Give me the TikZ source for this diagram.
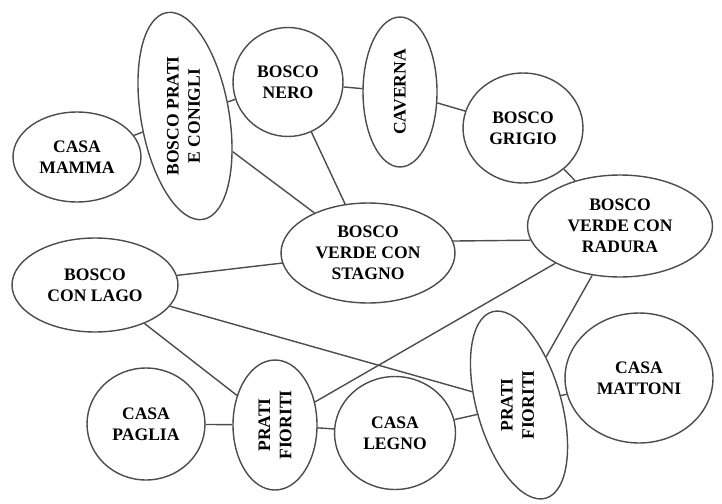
\documentclass[tikz,border=0pt]{standalone}
\usepackage{fontspec}
\setmainfont{Liberation Serif}
\usetikzlibrary{shapes.geometric}

\tikzset{
  place/.style={ellipse,draw=black!70,line width=0.8pt,align=center,
    font=\bfseries,inner sep=0pt},
  link/.style={draw=black!70,line width=0.8pt}
}
% testo verticale dentro un'ellisse inclinata
\newcommand{\tilttext}[2]{\rotatebox{#1}{\begin{tabular}{@{}c@{}}#2\end{tabular}}}

\begin{document}
\begin{tikzpicture}[x=0.02cm,y=-0.02cm]
\useasboundingbox (0,0) rectangle (722,503);
% luoghi
\node[place,minimum width=2.56cm,minimum height=1.8cm] (mamma) at (77,157) {CASA\\MAMMA};
\node[place,rotate=100,minimum width=4.2cm,minimum height=1.52cm] (conigli) at (185,116) {\tilttext{-10}{BOSCO PRATI\\E CONIGLI}};
\node[place,minimum width=2.2cm,minimum height=2.18cm] (nero) at (288,82) {BOSCO\\NERO};
\node[place,rotate=90,minimum width=3cm,minimum height=1.48cm] (caverna) at (400,92) {CAVERNA};
\node[place,minimum width=2.4cm,minimum height=2.2cm] (grigio) at (523,128) {BOSCO\\GRIGIO};
\node[place,minimum width=3.7cm,minimum height=2.04cm] (radura) at (620,226) {BOSCO\\VERDE CON\\RADURA};
\node[place,minimum width=3.48cm,minimum height=2cm] (stagno) at (368,253) {BOSCO\\VERDE CON\\STAGNO};
\node[place,minimum width=3.32cm,minimum height=1.88cm] (lago) at (95,285) {BOSCO\\CON LAGO};
\node[place,minimum width=2.36cm,minimum height=2.24cm] (paglia) at (146,424) {CASA\\PAGLIA};
\node[place,rotate=90,minimum width=2.6cm,minimum height=1.68cm] (prati1) at (275,425) {PRATI\\FIORITI};
\node[place,minimum width=2.42cm,minimum height=2.26cm] (legno) at (395,433) {CASA\\LEGNO};
\node[place,rotate=106,minimum width=3.88cm,minimum height=1.48cm] (prati2) at (519,405) {\tilttext{-16}{PRATI\\FIORITI}};
\node[place,minimum width=2.96cm,minimum height=2.6cm] (mattoni) at (639,378) {CASA\\MATTONI};
% sentieri
\draw[link] (mamma)--(conigli);
\draw[link] (conigli)--(nero);
\draw[link] (conigli)--(stagno);
\draw[link] (nero)--(caverna);
\draw[link] (nero)--(stagno);
\draw[link] (caverna)--(grigio);
\draw[link] (grigio)--(radura);
\draw[link] (stagno.8.5)--(radura.189);
\draw[link] (stagno)--(lago);
\draw[link] (lago)--(prati1);
\draw[link] (lago)--(prati2);
\draw[link] (radura)--(prati1);
\draw[link] (radura)--(prati2);
\draw[link] (paglia)--(prati1);
\draw[link] (prati1)--(legno);
\draw[link] (legno)--(prati2);
\draw[link] (prati2)--(mattoni);
\end{tikzpicture}
\end{document}
